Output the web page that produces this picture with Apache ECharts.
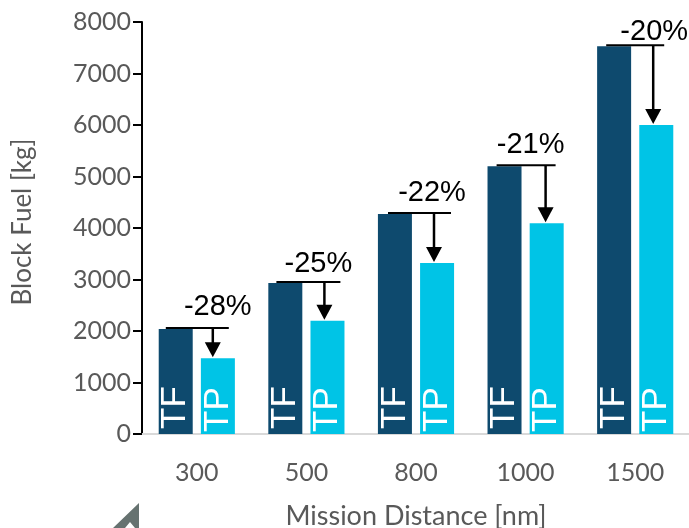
<!DOCTYPE html>
<html>
<head>
<meta charset="utf-8">
<style>html,body{margin:0;padding:0;background:#fff}#chart{width:689px;height:528px}</style>
<script src="https://cdn.jsdelivr.net/npm/echarts@6/dist/echarts.min.js"></script>
</head>
<body>
<div id="chart"></div>
<script>
const distances = ['300', '500', '800', '1000', '1500'];
const turbofan = [2040, 2930, 4270, 5200, 7530];
const turboprop = [1470, 2200, 3320, 4090, 6000];
const savings = ['-28%', '-25%', '-22%', '-21%', '-20%'];

// Pixel offsets of each saving annotation from its category centre
const bracketLeft = [-31, -30, -28, -29, -29];
const bracketRight = [32, 34, 35, 30, 29];
const arrowX = [16, 18, 18, 20, 18];
const labelX = [21, 12, 16, 5, 19];
const labelY = [-6, -4, -6, -6, 1];

const grey = '#595959';
const sansLabel = 'Lato, "Open Sans", sans-serif';
const barText = 'Liberation Sans, Arial, sans-serif';

function barSeries(name, values, color, inset) {
  return {
    name, type: 'bar', data: values, barWidth: 34, barGap: '24%',
    itemStyle: { color },
    label: {
      show: true, position: 'insideBottom', rotate: 90, formatter: name,
      color: '#fff', fontFamily: barText, fontSize: 35, distance: inset,
      align: 'left', verticalAlign: 'middle', offset: [-2, 0]
    }
  };
}

function drawSaving(params, api) {
  const i = params.dataIndex;
  const top = api.coord([i, api.value(1)]);
  const low = api.coord([i, api.value(2)]);
  const y = top[1] - 1;
  const ax = top[0] + arrowX[i];
  const tip = low[1] - 1;
  return {
    type: 'group',
    children: [
      { type: 'line', shape: { x1: top[0] + bracketLeft[i], y1: y, x2: top[0] + bracketRight[i], y2: y },
        style: { stroke: '#000', lineWidth: 2 } },
      { type: 'line', shape: { x1: ax, y1: y, x2: ax, y2: tip - 14 },
        style: { stroke: '#000', lineWidth: 2.5 } },
      { type: 'polygon', shape: { points: [[ax - 8, tip - 15], [ax + 8, tip - 15], [ax, tip]] },
        style: { fill: '#000' } },
      { type: 'text', x: top[0] + labelX[i], y: y + labelY[i],
        style: { text: savings[i], fill: '#000', font: '29px ' + barText, align: 'center', verticalAlign: 'bottom' } }
    ]
  };
}

const chart = echarts.init(document.getElementById('chart'), null, { renderer: 'canvas' });
chart.setOption({
  animation: false,
  backgroundColor: '#fff',
  grid: { left: 142, top: 22, width: 548, height: 412, outerBoundsMode: 'none' },
  xAxis: {
    type: 'category', data: distances,
    name: 'Mission Distance [nm]', nameLocation: 'middle', nameGap: 69,
    nameTextStyle: { color: grey, fontSize: 27, fontFamily: sansLabel },
    axisLine: { lineStyle: { color: '#d9d9d9', width: 2 } },
    axisTick: { show: false },
    axisLabel: { color: grey, fontSize: 25, fontFamily: sansLabel, margin: 26 }
  },
  yAxis: {
    type: 'value', min: 0, max: 8000, interval: 1000,
    name: 'Block Fuel [kg]', nameLocation: 'middle', nameGap: 106, nameRotate: 90,
    nameTextStyle: { color: grey, fontSize: 26, fontFamily: sansLabel, padding: [0, 0, 0, 12] },
    axisLine: { show: true, lineStyle: { color: '#000', width: 2 } },
    axisTick: { show: true, length: 9, lineStyle: { color: '#000', width: 2 } },
    splitLine: { show: false },
    axisLabel: { color: grey, fontSize: 25, fontFamily: sansLabel, margin: 11, formatter: v => String(v) }
  },
  series: [
    barSeries('TF', turbofan, '#0e4a6e', 7),
    barSeries('TP', turboprop, '#00c4e6', 4),
    {
      type: 'custom', renderItem: drawSaving, z: 5, silent: true,
      encode: { x: 0, y: 1 },
      data: distances.map((d, i) => [i, turbofan[i], turboprop[i]])
    }
  ],
  graphic: [{
    type: 'polygon', silent: true,
    shape: { points: [[139, 503], [139, 528], [135, 528], [130, 522], [125, 528], [113, 528]] },
    style: { fill: '#667270' }
  }]
});
</script>
</body>
</html>
